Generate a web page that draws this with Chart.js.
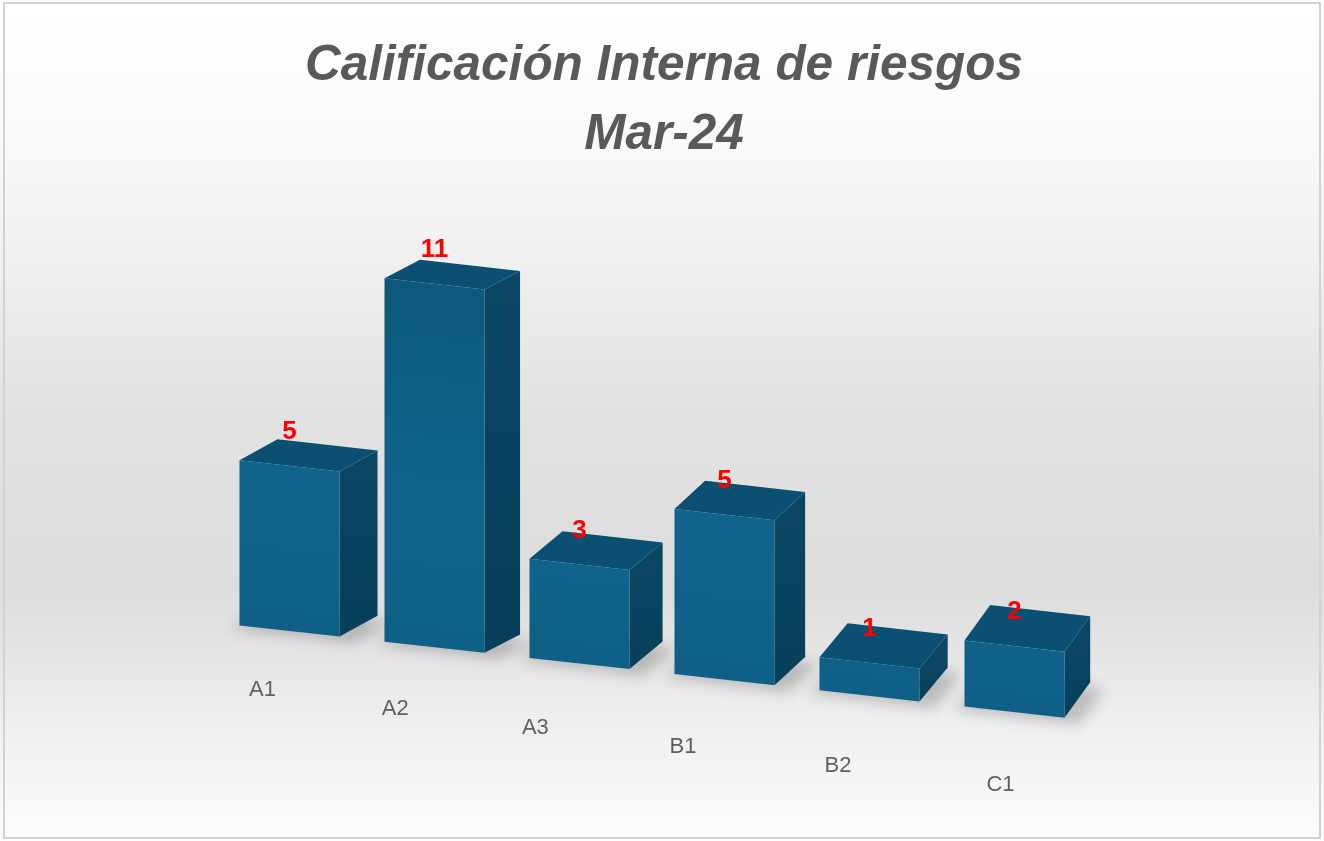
<!DOCTYPE html>
<html>
<head>
<meta charset="utf-8">
<script src="https://cdn.jsdelivr.net/npm/chart.js@4.4.1/dist/chart.umd.min.js"></script>
<style>
  html, body { margin: 0; padding: 0; background: #ffffff; }
  canvas { display: block; }
</style>
</head>
<body>
<canvas id="c" width="1324" height="841"></canvas>
<script>
// ---- data ----
const categories = ['A1', 'A2', 'A3', 'B1', 'B2', 'C1'];
const values = [5, 11, 3, 5, 1, 2];
const titleLines = ['Calificación Interna de riesgos', 'Mar-24'];

// ---- style ----
const SKEW = 0.112;            // floor slope (perspective)
const FRONT_TOP = '#0c5679';
const FRONT_MID = '#10648c';
const FRONT_BOT = '#0e5c82';
const SIDE_COLOR = '#0a4562';
const TOP_COLOR = '#0b5072';

function depthFor(x, y, x0) {
  return {
    dx: 38 - 0.017 * (x - x0),
    dy: -21 - 0.014 * (x - x0) - 0.025 * (y - 468)
  };
}

function barGeom(chart, el) {
  const x0 = chart.scales.x.getPixelForValue(0);
  const half = el.width / 2;
  const lx = el.x - half, rx = el.x + half;
  const sh = (x) => SKEW * (x - x0);
  const g = {
    flt: { x: lx, y: el.y + sh(lx) },
    frt: { x: rx, y: el.y + sh(rx) },
    flb: { x: lx, y: el.base + sh(lx) },
    frb: { x: rx, y: el.base + sh(rx) },
    topC: { x: el.x, y: el.y + sh(el.x) },
    baseC: { x: el.x, y: el.base + sh(el.x) }
  };
  g.d = depthFor(el.x, g.topC.y, x0);
  return g;
}

function poly(ctx, pts, fill) {
  ctx.beginPath();
  ctx.moveTo(pts[0].x, pts[0].y);
  for (let i = 1; i < pts.length; i++) ctx.lineTo(pts[i].x, pts[i].y);
  ctx.closePath();
  ctx.fillStyle = fill;
  ctx.fill();
}
const add = (p, d, s = 1) => ({ x: p.x + d.dx * s, y: p.y + d.dy * s });

const bar3d = {
  id: 'bar3d',
  beforeDraw(chart) {
    const ctx = chart.ctx;
    const W = chart.width, H = chart.height;
    ctx.save();
    const g = ctx.createLinearGradient(0, 0, 0, H);
    g.addColorStop(0, '#ffffff');
    g.addColorStop(0.18, '#f9f9f9');
    g.addColorStop(0.5, '#e2e2e2');
    g.addColorStop(0.7, '#dddddd');
    g.addColorStop(0.86, '#efefef');
    g.addColorStop(1, '#fdfdfd');
    ctx.fillStyle = g;
    ctx.fillRect(0, 0, W, H);
    ctx.strokeStyle = '#d2d2d2';
    ctx.lineWidth = 2;
    ctx.strokeRect(4, 3, W - 8, H - 6);
    ctx.restore();
  },
  beforeDatasetsDraw(chart) {
    const ctx = chart.ctx;
    const meta = chart.getDatasetMeta(0);
    ctx.save();
    // soft shadows on the floor
    ctx.filter = 'blur(7px)';
    meta.data.forEach((el) => {
      const g = barGeom(chart, el);
      const off = { dx: 14, dy: 7 };
      const pts = [add(g.flb, { dx: -10, dy: 3 }), add(g.frb, off), add(add(g.frb, g.d), off), add(g.flb, g.d)];
      poly(ctx, pts, 'rgba(0,0,0,0.2)');
    });
    ctx.filter = 'none';
    // side and top faces
    meta.data.forEach((el) => {
      const g = barGeom(chart, el);
      const sg = ctx.createLinearGradient(g.frt.x, g.frt.y, g.frb.x, g.frb.y);
      sg.addColorStop(0, SIDE_COLOR);
      sg.addColorStop(1, '#083f5a');
      poly(ctx, [g.frt, g.frb, add(g.frb, g.d), add(g.frt, g.d)], sg);
      poly(ctx, [g.flt, g.frt, add(g.frt, g.d), add(g.flt, g.d)], TOP_COLOR);
    });
    ctx.restore();
    // skew for the library-drawn front faces
    const x0 = chart.scales.x.getPixelForValue(0);
    ctx.save();
    ctx.translate(0, -SKEW * x0);
    ctx.transform(1, SKEW, 0, 1, 0, 0);
  },
  afterDatasetsDraw(chart) {
    const ctx = chart.ctx;
    ctx.restore();
    const meta = chart.getDatasetMeta(0);
    const xs = chart.scales.x;
    const x0 = xs.getPixelForValue(0);
    const span = xs.getPixelForValue(categories.length - 1) - x0;
    ctx.save();
    // value labels
    ctx.font = 'bold 26px "Liberation Sans", Arial, sans-serif';
    ctx.fillStyle = '#ff0000';
    ctx.textAlign = 'center';
    ctx.textBaseline = 'middle';
    meta.data.forEach((el, i) => {
      const g = barGeom(chart, el);
      ctx.fillText(String(values[i]), el.x, g.topC.y - 34);
    });
    // category labels
    ctx.font = '22px "Liberation Sans", Arial, sans-serif';
    ctx.fillStyle = '#606060';
    categories.forEach((c, i) => {
      const cx = xs.getPixelForValue(i);
      const t = (cx - x0) / span;
      const off = -27 - 80 * t + 93 * t * t;
      ctx.fillText(c, cx + off, chart.chartArea.bottom + 59 + 0.131 * (cx - x0));
    });
    ctx.restore();
  }
};

new Chart(document.getElementById('c'), {
  type: 'bar',
  data: {
    labels: categories,
    datasets: [{
      data: values,
      clip: false,
      borderWidth: 0,
      barPercentage: 0.69,
      categoryPercentage: 1.0,
      backgroundColor: (c) => {
        const ca = c.chart.chartArea;
        if (!ca) return FRONT_MID;
        const g = c.chart.ctx.createLinearGradient(0, ca.top, 0, ca.bottom + 80);
        g.addColorStop(0, FRONT_TOP);
        g.addColorStop(0.55, FRONT_MID);
        g.addColorStop(1, FRONT_BOT);
        return g;
      }
    }]
  },
  options: {
    responsive: false,
    animation: false,
    devicePixelRatio: 1,
    layout: { padding: { left: 217, right: 213, top: 0, bottom: 210 } },
    plugins: {
      legend: { display: false },
      tooltip: { enabled: false },
      title: {
        display: true,
        text: titleLines,
        color: '#595959',
        font: { family: '"Liberation Sans Narrow", "Liberation Sans", Arial, sans-serif', size: 49.5, style: 'italic', weight: 'bold', lineHeight: 1.41 },
        padding: { top: 31, bottom: 64 }
      }
    },
    scales: {
      x: { display: false },
      y: {
        display: true,
        position: 'right',
        min: 0,
        max: 12,
        ticks: { display: false },
        grid: { display: false },
        border: { display: false },
        afterFit: (scale) => { scale.width = 24; }
      }
    }
  },
  plugins: [bar3d]
});
</script>
</body>
</html>
